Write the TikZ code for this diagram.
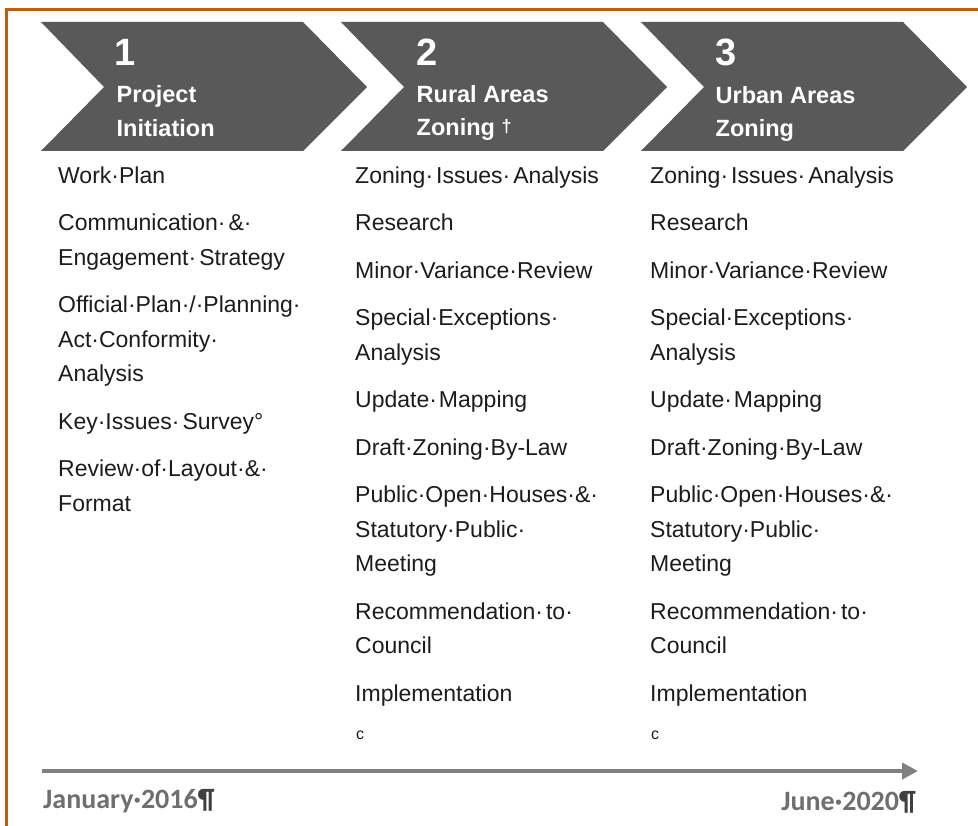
\documentclass[tikz,border=0pt]{standalone}
\usepackage{fontspec}
\setmainfont{Liberation Sans}
\newfontfamily\datefont{Carlito}
\usetikzlibrary{arrows.meta}

\definecolor{frameorange}{HTML}{C55A11}
\definecolor{chevgrey}{HTML}{595959}
\definecolor{bodyink}{HTML}{1C1C1C}
\definecolor{axisgrey}{HTML}{808080}
\definecolor{dategrey}{HTML}{6F6F6F}

% task list shared by the two zoning stages
\newcommand{\zoningtasks}{%
  \setlength{\parindent}{0pt}\setlength{\parskip}{13pt}%
  \rule{0pt}{20pt}Zoning·\hspace{3pt}Issues·\hspace{3pt}Analysis\par
  Research\par
  Minor·Variance·Review\par
  Special·Exceptions·\\Analysis\par
  Update·\hspace{2pt}Mapping\par
  Draft·Zoning·By-Law\par
  Public·Open·Houses·\&·\\Statutory·Public·\\Meeting\par
  Recommendation·\hspace{3pt}to·\\Council\par
  Implementation}

\begin{document}
\begin{tikzpicture}[x=1pt,y=-1pt,
  chevron/.style={fill=chevgrey,draw=none},
  stagenum/.style={text=white,font=\bfseries\fontsize{38}{38}\selectfont,anchor=base west,inner sep=0pt},
  stagetitle/.style={text=white,font=\bfseries\fontsize{23.5}{28}\selectfont,anchor=base west,inner sep=0pt},
  tasklist/.style={text=bodyink,font=\fontsize{23}{34.5}\selectfont,anchor=north west,inner sep=0pt,text width=285pt,align=left},
  endmark/.style={text=bodyink,font=\fontsize{16}{16}\selectfont,anchor=base west,inner sep=0pt},
  datelabel/.style={text=dategrey,font=\datefont\bfseries\fontsize{28}{28}\selectfont,inner sep=0pt},
  timeline/.style={draw=axisgrey,line width=4pt,-{Triangle[length=16pt,width=16pt]}}
]
\useasboundingbox (0,0) rectangle (978,826);
\fill[white] (0,0) rectangle (978,826);

% frame along the top and left edges
\draw[frameorange,line width=3pt] (6.5,826) -- (6.5,9.5) -- (978,9.5);

% the three stage chevrons
\foreach \i/\dx in {1/0,2/300,3/600}{
  \fill[chevron] (41+\dx,22) coordinate (chev\i nw) -- (303+\dx,22) -- (367+\dx,87) coordinate (chev\i tip)
    -- (303+\dx,151) -- (41+\dx,151) -- (104+\dx,87) coordinate (chev\i notch) -- cycle;
}

% stage headings
\node[stagenum]   (num1)   at (114,66)  {1};
\node[stagetitle] (title1a) at (116.5,103) {Project};
\node[stagetitle] (title1b) at (116.5,137) {Initiation};

\node[stagenum]   (num2)   at (416,66)  {2};
\node[stagetitle] (title2a) at (416.5,103) {Rural Areas};
\node[stagetitle] (title2b) at (416.5,136) {Zoning \raisebox{3pt}{\fontsize{18}{18}\selectfont †}};

\node[stagenum]   (num3)   at (715,66)  {3};
\node[stagetitle] (title3a) at (715.5,104) {Urban Areas};
\node[stagetitle] (title3b) at (715.5,137) {Zoning};

% task lists
\node[tasklist] (tasks1) at (58,163) {%
  \setlength{\parindent}{0pt}\setlength{\parskip}{13pt}%
  \rule{0pt}{20pt}Work·Plan\par
  Communication·\hspace{3pt}\&·\\Engagement·\hspace{3pt}Strategy\par
  Official·Plan·/·Planning·\\Act·Conformity·\\Analysis\par
  Key·Issues·\hspace{3pt}Survey°\par
  Review·of·Layout·\&·\\Format};
\node[tasklist] (tasks2) at (355,163) {\zoningtasks};
\node[tasklist] (tasks3) at (650,163) {\zoningtasks};

\node[endmark] (mark2) at (356,739) {c};
\node[endmark] (mark3) at (651,739) {c};

% time axis
\coordinate (axisstart) at (42,771);
\coordinate (axisend) at (918,771);
\draw[timeline] (axisstart) -- (axisend);

\node[datelabel,anchor=base west] (startdate) at (43,808) {January·2016{\color{black!75}¶}};
\node[datelabel,anchor=base east] (enddate) at (916,810) {June·2020{\color{black!75}¶}};
\end{tikzpicture}
\end{document}
